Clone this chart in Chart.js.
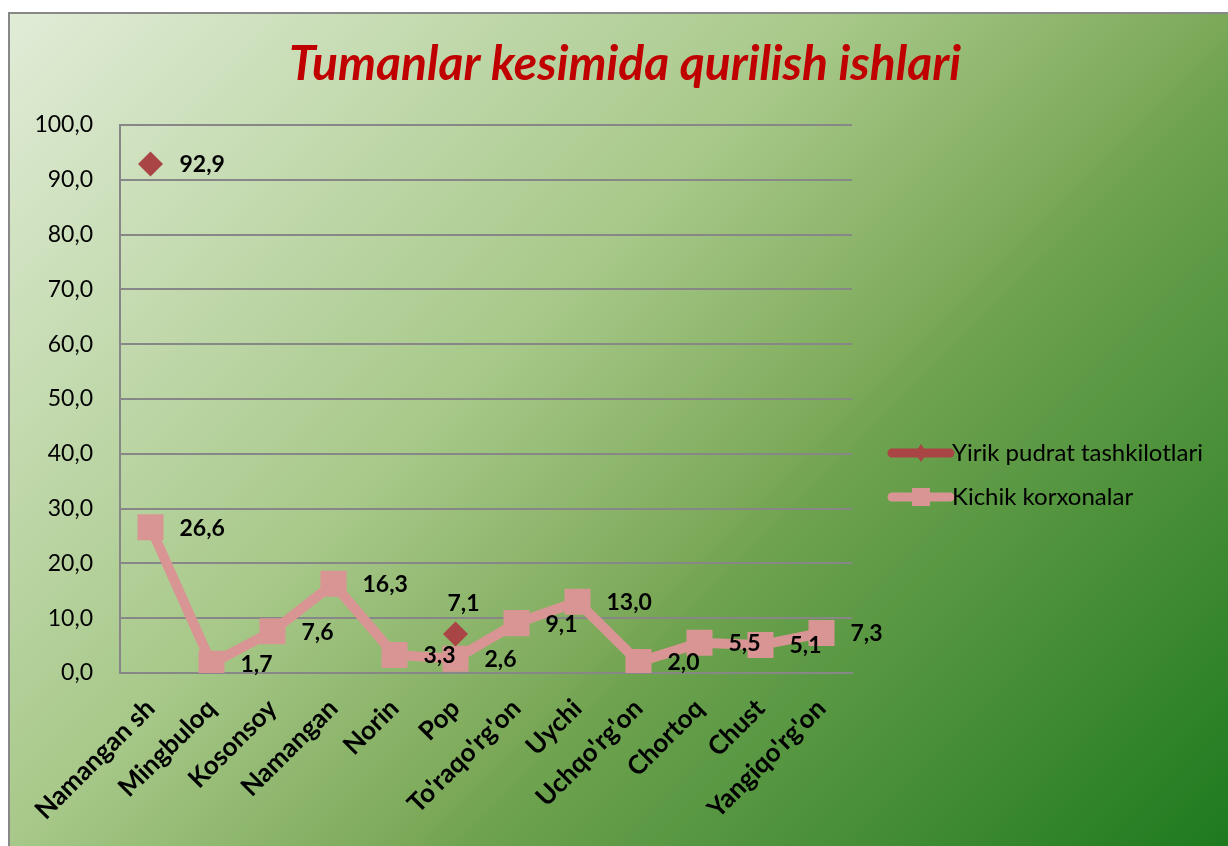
<!DOCTYPE html>
<html>
<head>
<meta charset="utf-8">
<script src="https://cdn.jsdelivr.net/npm/chart.js@4"></script>
<style>
  body { margin: 0; background: #fff; }
  #wrap {
    position: absolute; left: 8px; top: 12px; width: 1220px; height: 834px;
    box-sizing: border-box; border-left: 2px solid #888; border-top: 2px solid #888;
    background: linear-gradient(135deg, #e1ecd7 0%, #a8c98a 40%, #7daa5a 59%, #6ea24f 63%, #1e7a1e 100%);
  }
  #grafik { display: block; }
</style>
</head>
<body>
<div id="wrap"><canvas id="grafik" width="1218" height="832"></canvas></div>
<script>
// tumanlar
var tumanlar = ["Namangan sh", "Mingbuloq", "Kosonsoy", "Namangan", "Norin", "Pop",
    "To'raqo'rg'on", "Uychi", "Uchqo'rg'on", "Chortoq", "Chust", "Yangiqo'rg'on"];

// Yirik pudrat tashkilotlari (faqat 2 ta qiymat bor)
var yirik = [92.9, null, null, null, null, 7.1, null, null, null, null, null, null];

// Kichik korxonalar
var kichik = [26.6, 1.7, 7.6, 16.3, 3.3, 2.6, 9.1, 13.0, 2.0, 5.5, 5.1, 7.3];

var yTicks = [0, 10, 20, 30, 40, 50, 60, 70, 80, 90, 100];

var sarlavha = 'Tumanlar kesimida qurilish ishlari';

function vergul(v) {
    return Number(v).toFixed(1).replace('.', ',');
}

Chart.defaults.font.family = 'Lato';
Chart.defaults.color = '#000';

// sarlavha - butun rasm o'rtasida
const sarlavhaPlugin = {
    id: 'sarlavha',
    afterDraw(chart) {
        const ctx = chart.ctx;
        ctx.save();
        ctx.font = 'italic bold 48px Lato';
        ctx.fillStyle = '#C00000';
        ctx.textAlign = 'center';
        ctx.textBaseline = 'middle';
        ctx.fillText(sarlavha, 615, 51);
        ctx.restore();
    }
};

// qiymat yozuvlari
const yozuvlar = {
    id: 'yozuvlar',
    afterDatasetsDraw(chart) {
        const ctx = chart.ctx;
        ctx.save();
        ctx.font = 'bold 23px Lato';
        ctx.fillStyle = '#000';
        chart.data.datasets.forEach((ds, di) => {
            const meta = chart.getDatasetMeta(di);
            meta.data.forEach((pt, i) => {
                const v = ds.data[i];
                if (v === null) return;
                ctx.textBaseline = 'middle';
                if (ds.yuqori && ds.yuqori.indexOf(i) >= 0) {
                    ctx.textAlign = 'center';
                    ctx.fillText(vergul(v), pt.x + 8, pt.y - 31);
                } else {
                    ctx.textAlign = 'left';
                    ctx.fillText(vergul(v), pt.x + 29, pt.y + 1);
                }
            });
        });
        ctx.restore();
    }
};

// legenda o'ngda
const legenda = {
    id: 'legenda',
    afterDraw(chart) {
        const ctx = chart.ctx;
        const x0 = 882, x1 = 940;
        ctx.save();
        chart.data.datasets.forEach((ds, di) => {
            const y = 439 + di * 44;
            ctx.strokeStyle = ds.borderColor;
            ctx.lineWidth = 9;
            ctx.lineCap = 'round';
            ctx.beginPath();
            ctx.moveTo(x0, y);
            ctx.lineTo(x1, y);
            ctx.stroke();
            ctx.fillStyle = ds.pointBackgroundColor;
            ctx.beginPath();
            if (ds.pointStyle === 'rectRot') {
                ctx.moveTo(911, y - 9);
                ctx.lineTo(917, y);
                ctx.lineTo(911, y + 9);
                ctx.lineTo(905, y);
                ctx.closePath();
            } else {
                ctx.rect(902, y - 9, 18, 18);
            }
            ctx.fill();
            ctx.fillStyle = '#000';
            ctx.font = '24px Lato';
            ctx.textAlign = 'left';
            ctx.textBaseline = 'middle';
            ctx.fillText(ds.label, 942, y);
        });
        ctx.restore();
    }
};

new Chart('grafik', {
    type: 'line',
    data: {
        labels: tumanlar,
        datasets: [{
            label: 'Yirik pudrat tashkilotlari',
            data: yirik,
            yuqori: [5],
            borderColor: '#A94545',
            backgroundColor: '#A94545',
            pointBackgroundColor: '#A94545',
            pointStyle: 'rectRot',
            pointRadius: 12.5,
            pointBorderWidth: 0,
            borderWidth: 9,
            showLine: false
        }, {
            label: 'Kichik korxonalar',
            data: kichik,
            borderColor: '#D99594',
            backgroundColor: '#D99594',
            pointBackgroundColor: '#D99594',
            pointStyle: 'rect',
            pointRadius: 18.4,
            pointBorderWidth: 0,
            borderWidth: 10,
            tension: 0
        }]
    },
    options: {
        responsive: false,
        animation: false,
        events: [],
        layout: { padding: { left: 0, right: 376, top: 111, bottom: 0 } },
        plugins: {
            legend: { display: false },
            tooltip: { enabled: false },
            title: { display: false }
        },
        scales: {
            x: {
                offset: true,
                grid: { display: false },
                border: { display: true, color: '#878787', width: 2 },
                ticks: {
                    minRotation: 45, maxRotation: 45,
                    padding: 12,
                    font: { size: 26, weight: 'bold' }
                },
                afterFit(s) { s.height = 173; }
            },
            y: {
                min: 0, max: 100,
                afterBuildTicks(s) { s.ticks = yTicks.map(v => ({ value: v })); },
                grid: { color: '#878787', lineWidth: 2, drawTicks: false },
                border: { display: true, color: '#878787', width: 2 },
                ticks: {
                    padding: 27,
                    font: { size: 23 },
                    callback: v => vergul(v)
                },
                afterFit(s) { s.width = 110; }
            }
        }
    },
    plugins: [sarlavhaPlugin, yozuvlar, legenda]
});
</script>
</body>
</html>
